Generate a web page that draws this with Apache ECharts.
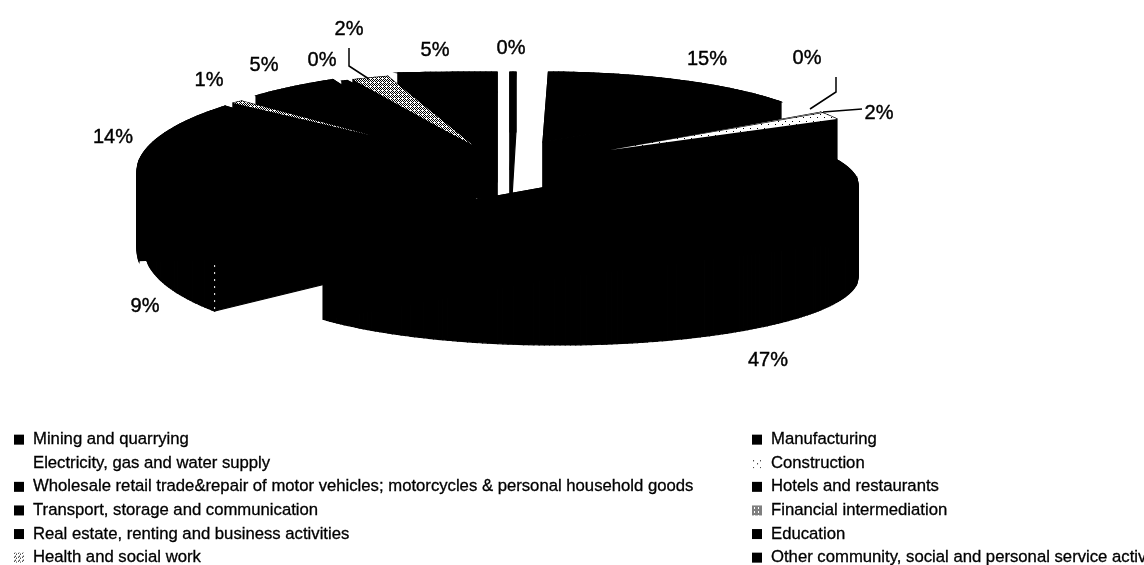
<!DOCTYPE html>
<html>
<head>
<meta charset="utf-8">
<style>html,body{margin:0;padding:0;background:#fff;overflow:hidden}#c{width:1144px;height:565px}</style>
<script src="https://cdn.jsdelivr.net/npm/echarts@6/dist/echarts.min.js"></script>
</head>
<body>
<div id="c"></div>
<script>
// ---- data (clockwise from twelve o'clock, legend order) ----
const categories = [
  "Mining and quarrying",
  "Manufacturing",
  "Electricity, gas and water supply",
  "Construction",
  "Wholesale retail trade&repair of motor vehicles; motorcycles & personal household goods",
  "Hotels and restaurants",
  "Transport, storage and communication",
  "Financial intermediation",
  "Real estate, renting and business activities",
  "Education",
  "Health and social work",
  "Other community, social and personal service activities"
];
const shares = [0.3, 15, 0.2, 1.7, 47.1, 8.9, 14, 1, 4.7, 0.3, 2, 4.8];

// ---- layout: exploded-slice geometry [hubX, hubY, radiusX, radiusY, depth] ----
const geom = [
  [510,170,315,98,60],
  [543,142,290,70,60],
  [610,150,257,66,40],
  [610,150,257,66,60],
  [558,185,300,68,92],
  [465,190,320,98,60],
  [452,172,315,95,78],
  [370,135,190,46,60],
  [469,168,315,98,60],
  [475,147,308,73,60],
  [475,147,294,74,60],
  [497,92,333,20,110]
];
const labelAt = [[511,48],[707,59],[807,58],[879,113],[768,360],[145,306],[113,137],[209,80],[264,65],[322,60],[349,29],[435,50]];
const leaders = {2:[[836,77],[836,92],[810,109]],3:[[823,112],[862,109]],10:[[349,48],[349,66],[369,79]]};
const paintOrder = [11,0,1,2,3,10,9,8,7,6,5,4];

function pattern(size, dots){
  const c = document.createElement('canvas'); c.width = c.height = size;
  const g = c.getContext('2d'); g.fillStyle = '#fff'; g.fillRect(0,0,size,size);
  g.fillStyle = '#000';
  dots.forEach(d => g.fillRect(d[0],d[1],1,1));
  return {image:c, repeat:'repeat'};
}
const checker = [[0,0],[2,0],[1,1],[3,1],[0,2],[1,3],[3,3]];
const fills = categories.map(() => '#000');
fills[2] = '#fff';
fills[3] = pattern(7,[[1,2],[5,5]]);
fills[7] = pattern(4,checker);
fills[10] = pattern(4,checker);
const keyFills = fills.slice();
keyFills[10] = pattern(4,[[0,0],[2,1],[1,3]]);

const total = shares.reduce((a,b)=>a+b,0);
const starts = []; shares.reduce((a,v,i)=>{starts[i]=a; return a+v;},0);

function pt(i,deg){
  const r = deg*Math.PI/180, g = geom[i];
  return [g[0]+g[2]*Math.sin(r), g[1]-g[3]*Math.cos(r)];
}
function renderer(i){
  return function(params, api){
    const a0 = starts[i]/total*360, a1 = (starts[i]+api.value(0))/total*360;
    const arc = [], n = Math.max(2,Math.ceil(a1-a0)), d = geom[i][4];
    for(let k=0;k<=n;k++) arc.push(pt(i,a0+(a1-a0)*k/n));
    const hub = [geom[i][0],geom[i][1]], hubLow=[hub[0],hub[1]+d];
    const black={fill:'#000',stroke:'#000',lineWidth:1.2};
    const kids = [];
    for(let k=0;k<n;k++){
      const p=arc[k], q=arc[k+1];
      kids.push({type:'polygon',shape:{points:[p,q,[q[0],q[1]+d],[p[0],p[1]+d]]},style:black});
    }
    kids.push(
      {type:'polygon',shape:{points:[hub,arc[0],[arc[0][0],arc[0][1]+d],hubLow]},style:black},
      {type:'polygon',shape:{points:[hub,arc[n],[arc[n][0],arc[n][1]+d],hubLow]},style:black},
      {type:'polygon',shape:{points:[hub].concat(arc)},style:fills[i]==='#000'?black:{fill:fills[i]}}
    );
    if(i===5) kids.push({type:'polyline',shape:{points:[[arc[0][0],arc[0][1]+14],[arc[0][0],arc[0][1]+d]]},style:{stroke:'#fff',lineWidth:1,lineDash:[2,5],fill:null}});
    if(leaders[i]) kids.push({type:'polyline',shape:{points:leaders[i]},style:{stroke:'#000',lineWidth:1.5,fill:null}});
    kids.push({type:'text',x:labelAt[i][0],y:labelAt[i][1],style:{text:Math.round(api.value(0))+'%',fill:'#000',stroke:'#000',lineWidth:0.4,align:'center',verticalAlign:'middle',font:'20px "Liberation Sans"'}});
    return {type:'group',children:kids};
  };
}
const series = paintOrder.map((i,z)=>({
  type:'custom',name:categories[i],coordinateSystem:'none',silent:true,z:2+z,
  itemStyle:{color:keyFills[i]},
  renderItem:renderer(i),data:[[shares[i]]],animation:false,clip:false
}));
const legendText = {color:'#000',fontFamily:'"Liberation Sans"',fontSize:16.7,lineHeight:14,padding:[0,0,0,4],textBorderColor:'#000',textBorderWidth:0.3};
const legendBase = {orient:'vertical',icon:'rect',itemWidth:10,itemHeight:10,itemGap:6.3,padding:0,height:220,selectedMode:false,textStyle:legendText};
const option = {
  backgroundColor:'#fff',animation:false,tooltip:{show:false},
  legend:[
    Object.assign({},legendBase,{left:14,top:431,data:categories.filter((_,i)=>i%2===0)}),
    Object.assign({},legendBase,{left:752,top:431,data:categories.filter((_,i)=>i%2===1)})
  ],
  series
};
echarts.init(document.getElementById('c'),null,{renderer:'canvas'}).setOption(option);
</script>
</body>
</html>
